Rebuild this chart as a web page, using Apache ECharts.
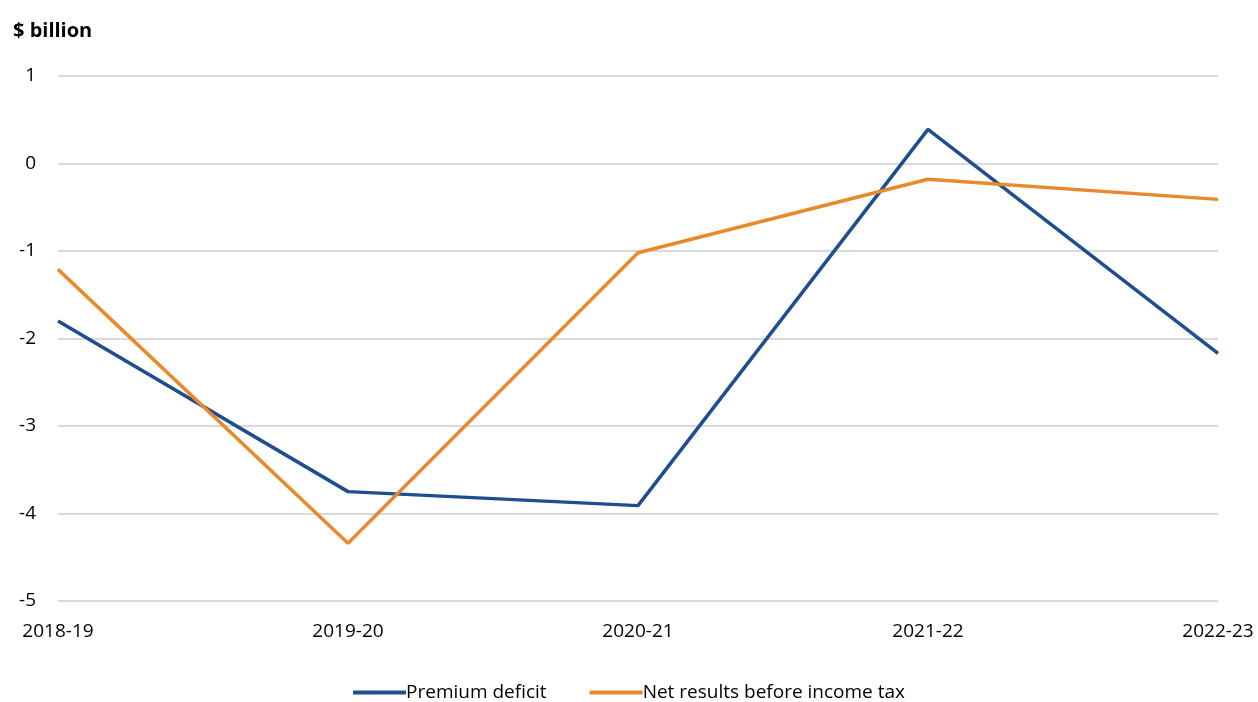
<!DOCTYPE html>
<html>
<head>
<meta charset="utf-8">
<style>
  html, body { margin: 0; padding: 0; background: #fff; }
  #chart { width: 1258px; height: 702px; }
</style>
<script src="https://cdn.jsdelivr.net/npm/echarts@6/dist/echarts.min.js"></script>
</head>
<body>
<div id="chart"></div>
<script>
// Financial years on the category axis
const years = ['2018-19', '2019-20', '2020-21', '2021-22', '2022-23'];

// $ billion
const premiumDeficit = [-1.8, -3.75, -3.91, 0.39, -2.17];
const netResultsBeforeTax = [-1.21, -4.34, -1.02, -0.18, -0.41];

const FONT = '"Open Sans", "Noto Sans", sans-serif';
const BLUE = '#1f4e8f';
const ORANGE = '#e8892b';

const chart = echarts.init(document.getElementById('chart'), null, { renderer: 'canvas' });

chart.setOption({
  animation: false,
  backgroundColor: '#ffffff',
  textStyle: { fontFamily: FONT },
  title: {
    text: '$ billion',
    left: 8,
    top: 16,
    textStyle: { fontFamily: FONT, fontSize: 20, fontWeight: 'bold', color: '#000' }
  },
  grid: { left: 58, right: 40, top: 76, bottom: 101, containLabel: false },
  legend: {
    top: 678,
    left: 'center',
    itemWidth: 53,
    itemHeight: 4,
    itemGap: 43,
    icon: 'rect',
    textStyle: { fontFamily: FONT, fontSize: 19, color: '#000', padding: [0, 0, 0, -5] },
    data: ['Premium deficit', 'Net results before income tax']
  },
  xAxis: {
    type: 'category',
    data: years,
    boundaryGap: false,
    axisLine: { show: false },
    axisTick: { show: false },
    axisLabel: { fontFamily: FONT, fontSize: 19, color: '#000', margin: 21 }
  },
  yAxis: {
    type: 'value',
    min: -5,
    max: 1,
    interval: 1,
    axisLine: { show: false },
    axisTick: { show: false },
    axisLabel: { fontFamily: FONT, fontSize: 19, color: '#000', margin: 22 },
    splitLine: { lineStyle: { color: '#d9d9d9', width: 2 } }
  },
  series: [
    {
      name: 'Premium deficit',
      type: 'line',
      data: premiumDeficit,
      symbol: 'none',
      lineStyle: { color: BLUE, width: 3.5 },
      itemStyle: { color: BLUE }
    },
    {
      name: 'Net results before income tax',
      type: 'line',
      data: netResultsBeforeTax,
      symbol: 'none',
      lineStyle: { color: ORANGE, width: 3.5 },
      itemStyle: { color: ORANGE }
    }
  ]
});
</script>
</body>
</html>
